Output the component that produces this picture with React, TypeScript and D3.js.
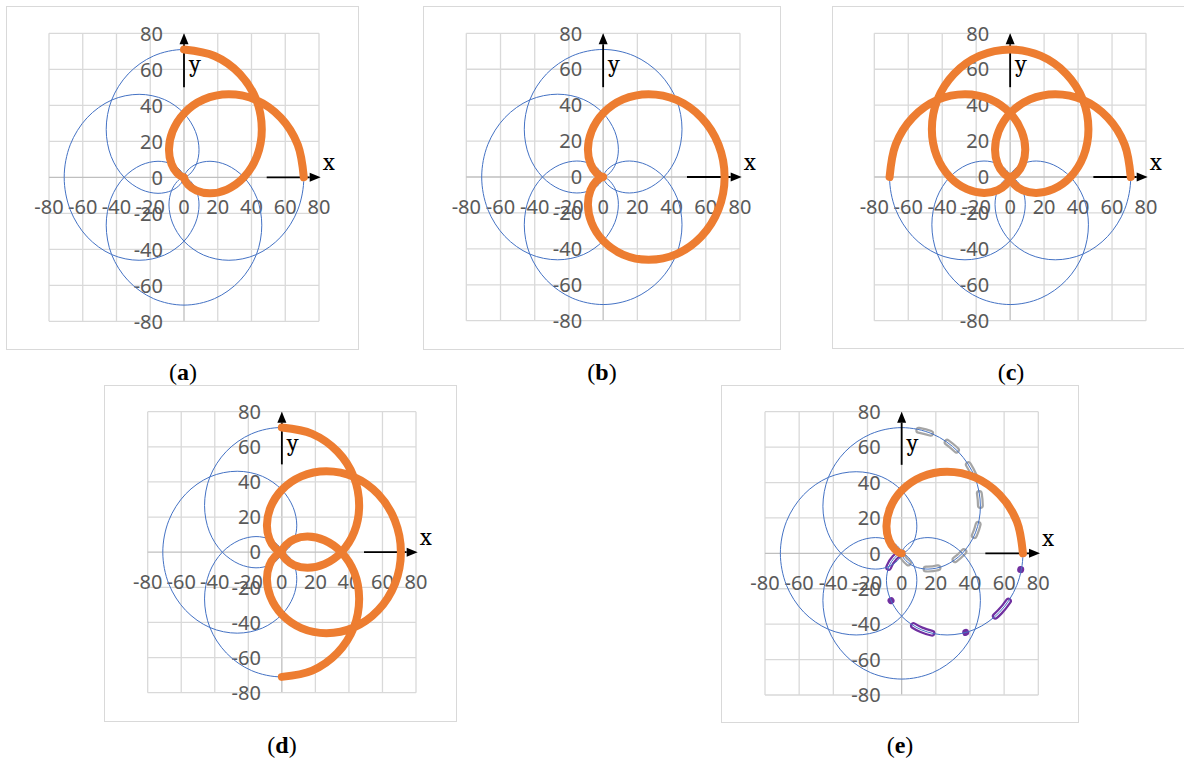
import React, { useEffect, useRef } from "react";
import * as d3 from "d3";

type Pt = [number, number];

const tickValues = [-80, -60, -40, -20, 0, 20, 40, 60, 80];

// cardioid halves (r = 35.5(1+cos)), each one running from the origin outwards
const rightUpper: Pt[] = [[0, 0], [-1.2, 0.3], [-4.1, 2.4], [-7.4, 7.4], [-8.9, 15.4], [-6.8, 25.4], [0, 35.5], [11.6, 43.2], [26.6, 46.1], [42.9, 42.9], [57.4, 33.1], [67.4, 18.1], [71, 0]];
const rightLower: Pt[] = [[0, 0], [-1.2, -0.3], [-4.1, -2.4], [-7.4, -7.4], [-8.9, -15.4], [-6.8, -25.4], [0, -35.5], [11.6, -43.2], [26.6, -46.1], [42.9, -42.9], [57.4, -33.1], [67.4, -18.1], [71, 0]];
const leftUpper: Pt[] = [[0, 0], [1.2, 0.3], [4.1, 2.4], [7.4, 7.4], [8.9, 15.4], [6.8, 25.4], [0, 35.5], [-11.6, 43.2], [-26.6, 46.1], [-42.9, 42.9], [-57.4, 33.1], [-67.4, 18.1], [-71, 0]];
const leftLower: Pt[] = [[0, 0], [1.2, -0.3], [4.1, -2.4], [7.4, -7.4], [8.9, -15.4], [6.8, -25.4], [0, -35.5], [-11.6, -43.2], [-26.6, -46.1], [-42.9, -42.9], [-57.4, -33.1], [-67.4, -18.1], [-71, 0]];
const upRight: Pt[] = [[0, 0], [0.3, -1.2], [2.4, -4.1], [7.4, -7.4], [15.4, -8.9], [25.4, -6.8], [35.5, 0], [43.2, 11.6], [46.1, 26.6], [42.9, 42.9], [33.1, 57.4], [18.1, 67.4], [0, 71]];
const upLeft: Pt[] = [[0, 0], [-0.3, -1.2], [-2.4, -4.1], [-7.4, -7.4], [-15.4, -8.9], [-25.4, -6.8], [-35.5, 0], [-43.2, 11.6], [-46.1, 26.6], [-42.9, 42.9], [-33.1, 57.4], [-18.1, 67.4], [0, 71]];
const downRight: Pt[] = [[0, 0], [0.3, 1.2], [2.4, 4.1], [7.4, 7.4], [15.4, 8.9], [25.4, 6.8], [35.5, 0], [43.2, -11.6], [46.1, -26.6], [42.9, -42.9], [33.1, -57.4], [18.1, -67.4], [0, -71]];
const downLeft: Pt[] = [[0, 0], [-0.3, 1.2], [-2.4, 4.1], [-7.4, 7.4], [-15.4, 8.9], [-25.4, 6.8], [-35.5, 0], [-43.2, -11.6], [-46.1, -26.6], [-42.9, -42.9], [-33.1, -57.4], [-18.1, -67.4], [0, -71]];

const rev = (a: Pt[]) => a.slice().reverse();
// glue pieces together, dropping the repeated joint point
const join = (...parts: Pt[][]) =>
  parts.reduce<Pt[]>((acc, p, i) => acc.concat(i === 0 ? p : p.slice(1)), []);
// a full cardioid as a closed ring
const ring = (a: Pt[], b: Pt[]) => join(rev(a), b).slice(0, -1);

const blueRings = [
  ring(rightLower, rightUpper),
  ring(upLeft, upRight),
  ring(leftUpper, leftLower),
  ring(downRight, downLeft),
];

const panels = [
  { id: "a", plot: [49, 319, 33.3, 321.3], box: [6, 6, 358, 349], caption: [183, 380],
    orange: join(rev(upRight), rightUpper), closed: false },
  { id: "b", plot: [466.3, 740, 33.3, 320.7], box: [423, 6, 780, 349], caption: [602, 380],
    orange: ring(rightLower, rightUpper), closed: true },
  { id: "c", plot: [874.3, 1146, 33.3, 320.7], box: [832, 6, 1190, 348], caption: [1011, 380],
    orange: join(rev(leftUpper), upLeft, rev(upRight), rightUpper), closed: false },
  { id: "d", plot: [147.7, 416, 411.7, 692.7], box: [104, 385, 456, 721], caption: [282, 753],
    orange: join(rev(upRight), rightUpper, rev(rightLower), downRight), closed: false },
  { id: "e", plot: [765, 1038.3, 411.7, 695], box: [721, 385, 1078, 722], caption: [900, 753],
    orange: rightUpper, closed: false, gray: upRight, purple: rightLower },
];

const Figure = () => {
  const svgRef = useRef<SVGSVGElement>(null);

  useEffect(() => {
    const svg = d3.select(svgRef.current);
    svg.selectAll("*").remove();

    panels.forEach((p) => {
      const [x0, x1, y0, y1] = p.plot;
      const x = d3.scaleLinear().domain([-80, 80]).range([x0, x1]);
      const y = d3.scaleLinear().domain([-80, 80]).range([y1, y0]);
      const g = svg.append("g");

      // frame
      const [bx0, by0, bx1, by1] = p.box;
      g.append("rect")
        .attr("x", bx0 + 0.5).attr("y", by0 + 0.5)
        .attr("width", bx1 - bx0).attr("height", by1 - by0)
        .attr("fill", "#fff").attr("stroke", "#d9d9d9");

      // grid
      g.selectAll(".vg").data(tickValues).join("line")
        .attr("x1", (d) => x(d)).attr("x2", (d) => x(d))
        .attr("y1", y0).attr("y2", y1)
        .attr("stroke", (d) => (d === 0 ? "#bfbfbf" : "#d9d9d9"))
        .attr("stroke-width", 1.3);
      g.selectAll(".hg").data(tickValues).join("line")
        .attr("y1", (d) => y(d)).attr("y2", (d) => y(d))
        .attr("x1", x0).attr("x2", x1)
        .attr("stroke", (d) => (d === 0 ? "#bfbfbf" : "#d9d9d9"))
        .attr("stroke-width", 1.3);

      // tick labels
      const font = "'Noto Sans', 'Open Sans', sans-serif";
      g.selectAll(".xt").data(tickValues).join("text")
        .attr("x", (d) => x(d)).attr("y", y(0) + 36.5)
        .attr("text-anchor", "middle")
        .attr("font-family", font).attr("font-size", 20).attr("fill", "#595959")
        .text((d) => d);
      g.selectAll(".yt").data(tickValues).join("text")
        .attr("x", x(0) - 21).attr("y", (d) => y(d))
        .attr("dy", "0.36em")
        .attr("text-anchor", "end")
        .attr("font-family", font).attr("font-size", 20).attr("fill", "#595959")
        .text((d) => d);

      const line = d3.line<Pt>().x((d) => x(d[0])).y((d) => y(d[1]))
        .curve(d3.curveCatmullRom.alpha(0.5));
      const closedLine = d3.line<Pt>().x((d) => x(d[0])).y((d) => y(d[1]))
        .curve(d3.curveCatmullRomClosed.alpha(0.5));

      // dashed compound lines (panel e)
      if (p.gray) {
        g.append("path").attr("d", line(p.gray)).attr("fill", "none")
          .attr("stroke", "#a5a5a5").attr("stroke-width", 7)
          .attr("stroke-linecap", "round").attr("stroke-dasharray", "12 19");
        g.append("path").attr("d", line(p.gray)).attr("fill", "none")
          .attr("stroke", "#fff").attr("stroke-width", 2.6)
          .attr("stroke-linecap", "round").attr("stroke-dasharray", "12 19");
      }
      if (p.purple) {
        g.append("path").attr("d", line(p.purple)).attr("fill", "none")
          .attr("stroke", "#7030a0").attr("stroke-width", 7)
          .attr("stroke-linecap", "round").attr("stroke-dasharray", "20 34 0.1 34");
        g.append("path").attr("d", line(p.purple)).attr("fill", "none")
          .attr("stroke", "#fff").attr("stroke-width", 2.6)
          .attr("stroke-linecap", "round").attr("stroke-dasharray", "20 68.1");
      }

      // thin blue cardioids
      blueRings.forEach((r) => {
        g.append("path").attr("d", closedLine(r)).attr("fill", "none")
          .attr("stroke", "#4472c4").attr("stroke-width", 1);
      });

      // axis arrows
      const arrow = (xa: number, ya: number, xb: number, yb: number) => {
        const ang = Math.atan2(yb - ya, xb - xa);
        const len = 11, half = 4.5;
        const bx = xb - len * Math.cos(ang), by = yb - len * Math.sin(ang);
        g.append("line").attr("x1", xa).attr("y1", ya).attr("x2", bx).attr("y2", by)
          .attr("stroke", "#000").attr("stroke-width", 1.8);
        g.append("path")
          .attr("d", `M${xb},${yb}L${bx - half * Math.sin(ang)},${by + half * Math.cos(ang)}L${bx + half * Math.sin(ang)},${by - half * Math.cos(ang)}Z`)
          .attr("fill", "#000");
      };
      arrow(x(49), y(0), x(81), y(0));
      arrow(x(0), y(50), x(0), y(80));

      const serif = "Cambria, 'Liberation Serif', 'DejaVu Serif', serif";
      g.append("text").attr("x", x(81) + 8).attr("y", y(0) - 7)
        .attr("text-anchor", "middle").attr("font-family", serif).attr("font-size", 24)
        .text("x");
      g.append("text").attr("x", x(0) + 11).attr("y", y(80) + 39)
        .attr("text-anchor", "middle").attr("font-family", serif).attr("font-size", 24)
        .text("y");

      // the orange path
      g.append("path")
        .attr("d", p.closed ? closedLine(p.orange) : line(p.orange))
        .attr("fill", "none").attr("stroke", "#ed7d31").attr("stroke-width", 8)
        .attr("stroke-linecap", "round").attr("stroke-linejoin", "round");

      // caption
      const cap = g.append("text").attr("x", p.caption[0]).attr("y", p.caption[1])
        .attr("text-anchor", "middle").attr("font-family", "'Liberation Serif', serif")
        .attr("font-size", 24).attr("fill", "#000");
      cap.append("tspan").text("(");
      cap.append("tspan").attr("font-weight", "bold").text(p.id);
      cap.append("tspan").text(")");
    });
  }, []);

  return (
    <svg
      ref={svgRef}
      width={1184}
      height={761}
      style={{ position: "absolute", left: 0, top: 0, background: "#fff" }}
    ></svg>
  );
};

export default function App() {
  return <Figure />;
}
